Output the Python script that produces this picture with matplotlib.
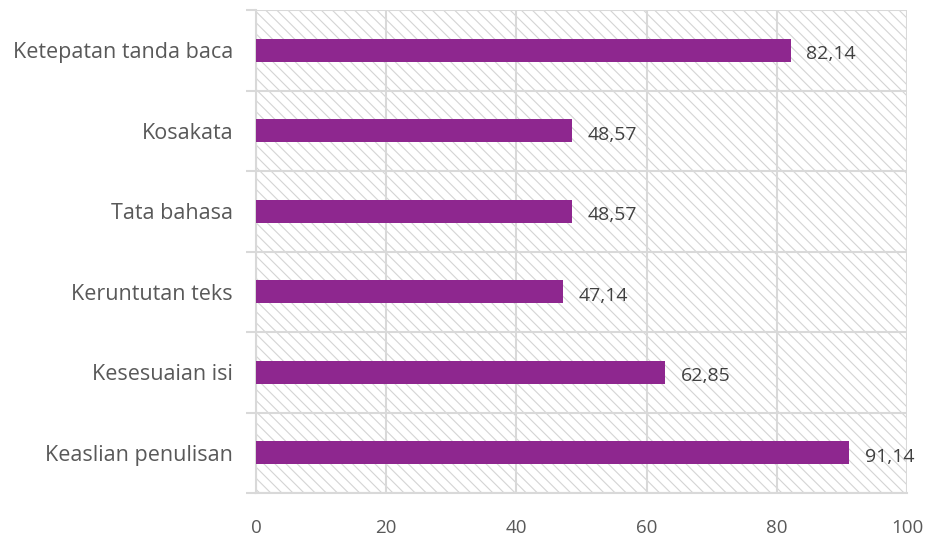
import matplotlib
matplotlib.use("Agg")
import matplotlib.pyplot as plt
from matplotlib.patches import Rectangle
import numpy as np

categories = ["Ketepatan tanda baca", "Kosakata", "Tata bahasa", "Keruntutan teks",
              "Kesesuaian isi", "Keaslian penulisan"]
values = [82.14, 48.57, 48.57, 47.14, 62.85, 91.14]
value_labels = ["82,14", "48,57", "48,57", "47,14", "62,85", "91,14"]
xticks = [0, 20, 40, 60, 80, 100]

plt.rcParams['font.family'] = ['Open Sans', 'DejaVu Sans']
plt.rcParams['hatch.color'] = '#d4d4d4'
plt.rcParams['hatch.linewidth'] = 0.8

fig = plt.figure(figsize=(9.25, 5.37), dpi=100)
ax = fig.add_axes([256/925, 1-493/537, (907-256)/925, (493-10)/537])

n = len(categories)
y = np.arange(n)[::-1]

bg = Rectangle((0, 0), 1, 1, transform=ax.transAxes, facecolor='white',
               edgecolor='#d4d4d4', hatch='\\\\\\', lw=0, zorder=0)
ax.add_patch(bg)

ax.barh(y, values, height=0.29, color='#8E278F', zorder=3)
for yi, v, lab in zip(y, values, value_labels):
    ax.text(v + 2.4, yi - 0.05, lab, va='center', ha='left', fontsize=14,
            color='#404040', zorder=4)

ax.set_xlim(0, 100)
ax.set_ylim(-0.5, n - 0.5)
ax.set_xticks(xticks)
ax.set_xticklabels([str(t) for t in xticks], fontsize=13.5, color='#595959')
ax.set_yticks(y)
ax.set_yticklabels(categories, fontsize=15.5, color='#595959')
ax.set_yticks(np.arange(n + 1) - 0.5, minor=True)

ax.tick_params(axis='y', which='major', length=0, pad=16.5)
ax.tick_params(axis='y', which='minor', length=7, color='#d9d9d9', width=1.5)
ax.tick_params(axis='x', which='major', length=0, pad=19)

ax.grid(axis='x', which='major', color='#d9d9d9', lw=1.5, zorder=1)
ax.grid(axis='y', which='minor', color='#d9d9d9', lw=1.5, zorder=1)
ax.set_axisbelow(True)

for s in ['top', 'right']:
    ax.spines[s].set_visible(False)
for s in ['left', 'bottom']:
    ax.spines[s].set_color('#d9d9d9')
    ax.spines[s].set_linewidth(1.5)

fig.savefig("out.png", dpi=100)
